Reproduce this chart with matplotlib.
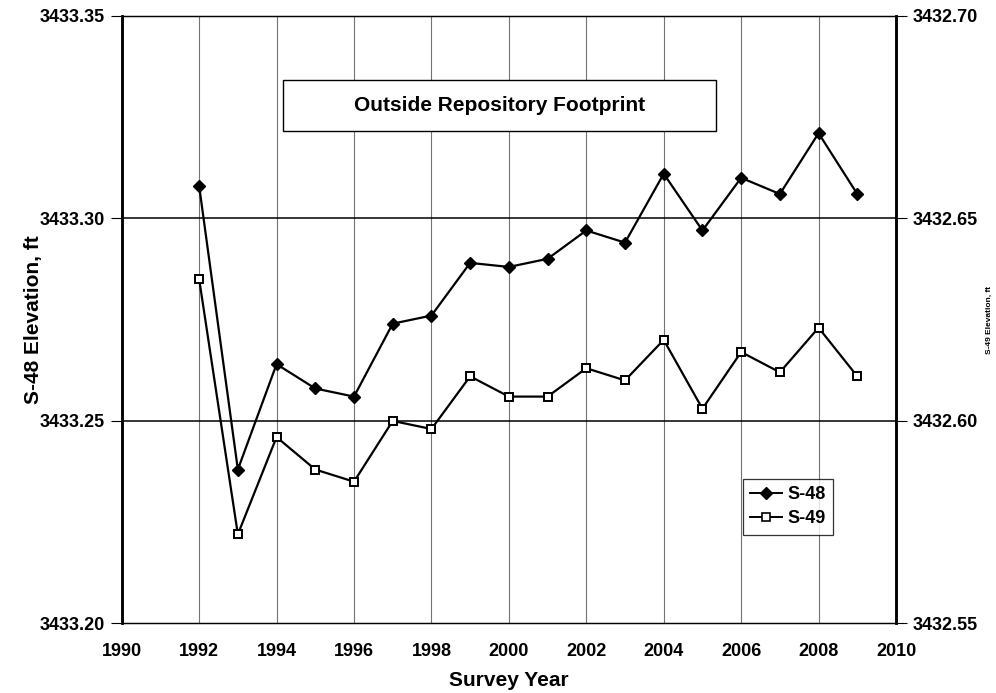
import matplotlib
matplotlib.use("Agg")
import matplotlib.pyplot as plt
from matplotlib.patches import Rectangle
from matplotlib.lines import Line2D

plt.rcParams['font.family'] = ['Liberation Sans', 'DejaVu Sans']
plt.rcParams['font.weight'] = 'bold'

years = [1992, 1993, 1994, 1995, 1996, 1997, 1998, 1999, 2000, 2001,
         2002, 2003, 2004, 2005, 2006, 2007, 2008, 2009]
s48 = [3433.308, 3433.238, 3433.264, 3433.258, 3433.256, 3433.274, 3433.276,
       3433.289, 3433.288, 3433.290, 3433.297, 3433.294, 3433.311, 3433.297,
       3433.310, 3433.306, 3433.321, 3433.306]
s49 = [3432.635, 3432.572, 3432.596, 3432.588, 3432.585, 3432.600, 3432.598,
       3432.611, 3432.606, 3432.606, 3432.613, 3432.610, 3432.620, 3432.603,
       3432.617, 3432.612, 3432.623, 3432.611]
left_ticks = [3433.20, 3433.25, 3433.30, 3433.35]
right_ticks = [3432.55, 3432.60, 3432.65, 3432.70]
x_ticks = list(range(1990, 2011, 2))
title_text = "Outside Repository Footprint"

fig = plt.figure(figsize=(9.96, 6.93), dpi=100)
ax = fig.add_axes([0.1222, 0.1003, 0.7774, 0.8770])
ax2 = ax.twinx()

ax.set_xlim(1990, 2010)
ax.set_ylim(3433.20, 3433.35)
ax2.set_ylim(3432.55, 3432.70)

# grid
for x in x_ticks[1:-1]:
    ax.axvline(x, color='0.45', lw=0.8, zorder=0)
for y in left_ticks[1:-1]:
    ax.axhline(y, color='black', lw=1.1, zorder=0)

ax.plot(years, s48, color='black', lw=1.6, marker='D', ms=6.5,
        mfc='black', mec='black', zorder=3)
ax2.plot(years, s49, color='black', lw=1.6, marker='s', ms=6,
         mfc='white', mec='black', mew=1.4, zorder=3)

ax.set_xticks(x_ticks)
ax.set_xticklabels([str(v) for v in x_ticks], fontsize=13, fontweight='bold')
ax.set_yticks(left_ticks)
ax.set_yticklabels([f"{v:.2f}" for v in left_ticks], fontsize=13, fontweight='bold')
ax2.set_yticks(right_ticks)
ax2.set_yticklabels([f"{v:.2f}" for v in right_ticks], fontsize=13, fontweight='bold')

ax.tick_params(axis='y', direction='out', length=8, width=0.8, pad=4)
ax2.tick_params(axis='y', direction='out', length=8, width=0.8, pad=4)
ax.tick_params(axis='x', direction='in', length=0, pad=14)

for a in (ax, ax2):
    a.spines['left'].set_linewidth(1.8)
    a.spines['right'].set_linewidth(1.8)
    a.spines['top'].set_linewidth(0.9)
    a.spines['bottom'].set_linewidth(0.9)

ax.set_xlabel("Survey Year", fontsize=15, fontweight='bold', labelpad=8)
ax.set_ylabel("S-48 Elevation, ft", fontsize=15, fontweight='bold', labelpad=-2)
ax2.set_ylabel("S-49 Elevation, ft", fontsize=6, fontweight='bold', labelpad=6)

# title box
ax2.add_patch(Rectangle((0.208, 0.8106), 0.559, 0.0839, transform=ax.transAxes,
                        facecolor='white', edgecolor='black', lw=1.0, zorder=4))
ax2.text(0.4875, 0.8525, title_text, transform=ax.transAxes, ha='center', va='center',
         fontsize=15, fontweight='bold', zorder=5)

h1 = Line2D([], [], color='black', lw=1.4, marker='D', ms=6, mfc='black', mec='black')
h2 = Line2D([], [], color='black', lw=1.4, marker='s', ms=5.5, mfc='white', mec='black', mew=1.2)
leg = ax2.legend([h1, h2], ["S-48", "S-49"], loc='upper left',
                 bbox_to_anchor=(0.802, 0.238), bbox_transform=ax.transAxes,
                 prop={'size': 13, 'weight': 'bold'}, frameon=True, fancybox=False,
                 handlelength=1.8, handletextpad=0.3, borderpad=0.4, labelspacing=0.4,
                 borderaxespad=0)
leg.get_frame().set_edgecolor('black')
leg.get_frame().set_linewidth(0.9)
leg.set_zorder(6)

fig.savefig("out.png", dpi=100)
